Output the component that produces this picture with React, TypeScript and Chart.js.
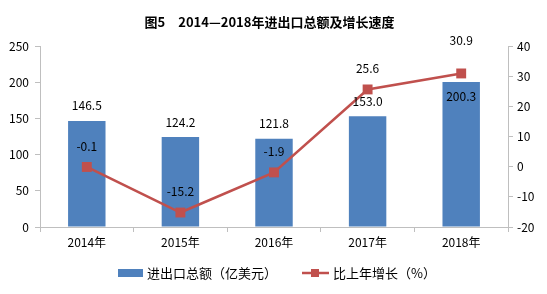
import React, { useEffect, useRef } from "react";
import { Chart, registerables } from "chart.js";

Chart.register(...registerables);

const years = ["2014年", "2015年", "2016年", "2017年", "2018年"];
const totalTrade = [146.5, 124.2, 121.8, 153.0, 200.3];
const growthRate = [-0.1, -15.2, -1.9, 25.6, 30.9];
const leftTicks = [0, 50, 100, 150, 200, 250];
const rightTicks = [-20, -10, 0, 10, 20, 30, 40];

const titleText = "图5　2014—2018年进出口总额及增长速度";
const barLabel = "进出口总额（亿美元）";
const lineLabel = "比上年增长（%）";

const FONT = "'Noto Sans CJK SC', 'Noto Sans', sans-serif";
const BAR_COLOR = "#4F81BD";
const LINE_COLOR = "#C0504D";
const AXIS_COLOR = "#BFBFBF";

// label placement: bars above the top except the last one, which sits inside
const barLabelOffset = [-15, -15, -15, -15, 14];
const lineLabelOffset = [-21, -21, -21, -21, -33];

const overlayPlugin = {
  id: "overlay",
  afterDatasetsDraw(chart: any) {
    const ctx = chart.ctx;
    ctx.save();
    ctx.font = `12px ${FONT}`;
    ctx.fillStyle = "#000";
    ctx.textAlign = "center";
    ctx.textBaseline = "middle";
    const barMeta = chart.getDatasetMeta(0);
    barMeta.data.forEach((el: any, i: number) => {
      ctx.fillText(totalTrade[i].toFixed(1), el.x, el.y + barLabelOffset[i]);
    });
    const lineMeta = chart.getDatasetMeta(1);
    lineMeta.data.forEach((el: any, i: number) => {
      ctx.fillText(growthRate[i].toFixed(1), el.x, el.y + lineLabelOffset[i]);
    });

    // title
    ctx.font = `bold 13px ${FONT}`;
    ctx.fillText(titleText, chart.width / 2 - 4, 22);

    // legend
    const ly = 273;
    ctx.font = `13px ${FONT}`;
    ctx.textAlign = "left";
    ctx.fillStyle = BAR_COLOR;
    ctx.fillRect(118, ly - 4, 25, 8);
    ctx.fillStyle = "#000";
    ctx.fillText(barLabel, 147, ly);
    ctx.strokeStyle = LINE_COLOR;
    ctx.lineWidth = 2.5;
    ctx.beginPath();
    ctx.moveTo(302, ly);
    ctx.lineTo(329, ly);
    ctx.stroke();
    ctx.fillStyle = LINE_COLOR;
    ctx.fillRect(311, ly - 4, 8, 8);
    ctx.fillStyle = "#000";
    ctx.fillText(lineLabel, 333, ly);
    ctx.restore();
  },
};

export default function App() {
  const canvasRef = useRef<HTMLCanvasElement | null>(null);

  useEffect(() => {
    document.body.style.margin = "0";
    const canvas = canvasRef.current;
    if (!canvas) return;
    const chart = new Chart(canvas, {
      type: "bar",
      data: {
        labels: years,
        datasets: [
          {
            type: "bar",
            label: barLabel,
            data: totalTrade,
            backgroundColor: BAR_COLOR,
            borderWidth: 0,
            yAxisID: "y",
            categoryPercentage: 0.8,
            barPercentage: 0.5,
            order: 2,
          },
          {
            type: "line",
            label: lineLabel,
            data: growthRate,
            borderColor: LINE_COLOR,
            backgroundColor: LINE_COLOR,
            borderWidth: 2.5,
            pointStyle: "rect",
            pointRadius: 7,
            pointBackgroundColor: LINE_COLOR,
            pointBorderColor: LINE_COLOR,
            pointBorderWidth: 0,
            tension: 0,
            yAxisID: "y1",
            order: 1,
          },
        ],
      },
      options: {
        responsive: false,
        animation: false,
        layout: { padding: { top: 46, left: 0, right: 0, bottom: 0 } },
        plugins: {
          legend: { display: false },
          title: { display: false },
          tooltip: { enabled: false },
        },
        scales: {
          x: {
            grid: {
              display: true,
              drawOnChartArea: false,
              drawTicks: true,
              tickLength: 5,
              color: AXIS_COLOR,
              offset: true,
            },
            border: { color: AXIS_COLOR, width: 1 },
            ticks: { color: "#000", font: { family: FONT, size: 12 }, padding: 3 },
            afterFit: (s: any) => {
              s.height = 67;
            },
          },
          y: {
            position: "left",
            min: 0,
            max: 250,
            afterBuildTicks: (s: any) => {
              s.ticks = leftTicks.map((v) => ({ value: v }));
            },
            grid: { drawOnChartArea: false, drawTicks: true, tickLength: 5, color: AXIS_COLOR },
            border: { color: AXIS_COLOR, width: 1 },
            ticks: { color: "#000", font: { family: FONT, size: 12 }, padding: 6 },
            afterFit: (s: any) => {
              s.width = 40;
            },
          },
          y1: {
            position: "right",
            min: -20,
            max: 40,
            afterBuildTicks: (s: any) => {
              s.ticks = rightTicks.map((v) => ({ value: v }));
            },
            grid: { drawOnChartArea: false, drawTicks: true, tickLength: 5, color: AXIS_COLOR },
            border: { color: AXIS_COLOR, width: 1 },
            ticks: { color: "#000", font: { family: FONT, size: 12 }, padding: 4 },
            afterFit: (s: any) => {
              s.width = 39;
            },
          },
        },
      },
      plugins: [overlayPlugin],
    } as any);
    return () => chart.destroy();
  }, []);

  return (
    <div style={{ width: 547, height: 294, background: "#fff" }}>
      <canvas ref={canvasRef} width={547} height={294} />
    </div>
  );
}
